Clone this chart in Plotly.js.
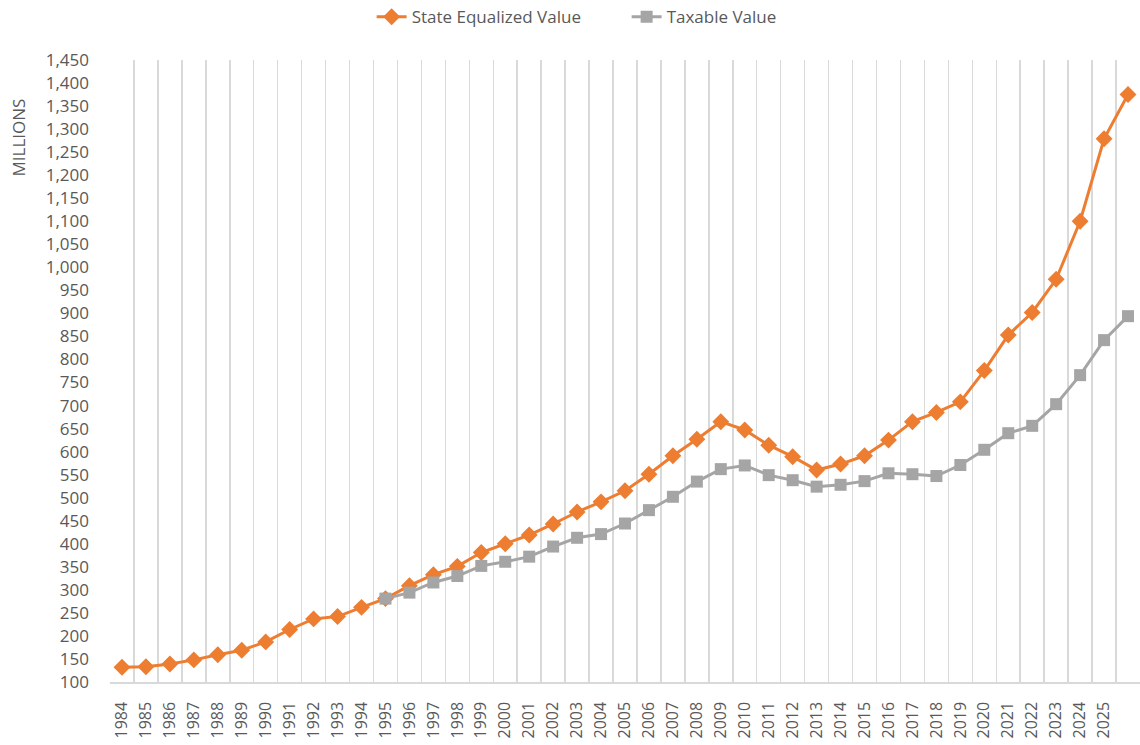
<!DOCTYPE html>
<html>
<head>
<meta charset="utf-8">
<script src="https://cdn.plot.ly/plotly-3.0.1.min.js"></script>
<style>html,body{margin:0;padding:0;background:#fff;}#chart{width:1140px;height:745px;}</style>
</head>
<body>
<div id="chart"></div>
<script>
// Categories (the last one has no visible label in the reference)
const years = ["1984","1985","1986","1987","1988","1989","1990","1991","1992","1993","1994","1995","1996","1997","1998","1999","2000","2001","2002","2003","2004","2005","2006","2007","2008","2009","2010","2011","2012","2013","2014","2015","2016","2017","2018","2019","2020","2021","2022","2023","2024","2025","2026"];
const tickLabels = ["1984","1985","1986","1987","1988","1989","1990","1991","1992","1993","1994","1995","1996","1997","1998","1999","2000","2001","2002","2003","2004","2005","2006","2007","2008","2009","2010","2011","2012","2013","2014","2015","2016","2017","2018","2019","2020","2021","2022","2023","2024","2025",""];
const stateEqualized = [132,133,139,148,159,169,187,214,237,242,262,281,309,333,351,381,400,419,443,469,491,515,551,591,627,665,647,614,589,560,573,591,625,665,685,708,776,853,902,974,1100,1279,1375];
const taxable = [null,null,null,null,null,null,null,null,null,null,null,281,294,316,330,352,361,372,394,413,421,444,473,502,535,562,570,549,538,524,528,536,553,551,547,571,604,640,656,703,766,842,894];
const yTitle = "MILLIONS";

const font = "'Open Sans', sans-serif";
const textColor = "#595959";

const traces = [
  {x: years, y: stateEqualized, type: "scatter", mode: "lines+markers", name: "State Equalized Value",
   line: {color: "#ED7D31", width: 3}, marker: {symbol: "diamond", size: 13, color: "#ED7D31"}},
  {x: years, y: taxable, type: "scatter", mode: "lines+markers", name: "Taxable Value",
   line: {color: "#A5A5A5", width: 3}, marker: {symbol: "square", size: 12, color: "#A5A5A5"}}
];

const layout = {
  width: 1140, height: 745,
  margin: {l: 110, r: 0, t: 60, b: 63},
  paper_bgcolor: "#fff", plot_bgcolor: "#fff",
  font: {family: font, color: textColor, size: 16},
  showlegend: true,
  legend: {orientation: "h", xref: "container", yref: "container", x: 0.326, xanchor: "left", y: 0.977, yanchor: "middle",
           entrywidth: 210, entrywidthmode: "pixels",
           font: {family: font, size: 17, color: textColor}, traceorder: "normal"},
  xaxis: {type: "category", categoryorder: "array", categoryarray: years,
          tickmode: "array", tickvals: years, ticktext: tickLabels,
          tickson: "boundaries", ticks: "", tickangle: -90, ticklabelstandoff: 12,
          showgrid: true, gridcolor: "#D9D9D9", gridwidth: 1.5,
          showline: true, linecolor: "#D9D9D9", linewidth: 1.5,
          range: [-0.5, 42.5], tickfont: {family: font, size: 16, color: textColor}, fixedrange: true},
  yaxis: {range: [100, 1450], dtick: 50, tick0: 100, tickformat: ",", showgrid: false, zeroline: false,
          showline: false, ticks: "", ticklabelstandoff: 20,
          tickfont: {family: font, size: 17, color: textColor}, fixedrange: true},
  annotations: [{text: yTitle, xref: "paper", yref: "paper", x: -0.089, y: 0.876, xanchor: "center", yanchor: "middle",
                 textangle: -90, showarrow: false, font: {family: font, size: 17, color: textColor}}]
};

Plotly.newPlot("chart", traces, layout, {displayModeBar: false, staticPlot: true});
</script>
</body>
</html>
